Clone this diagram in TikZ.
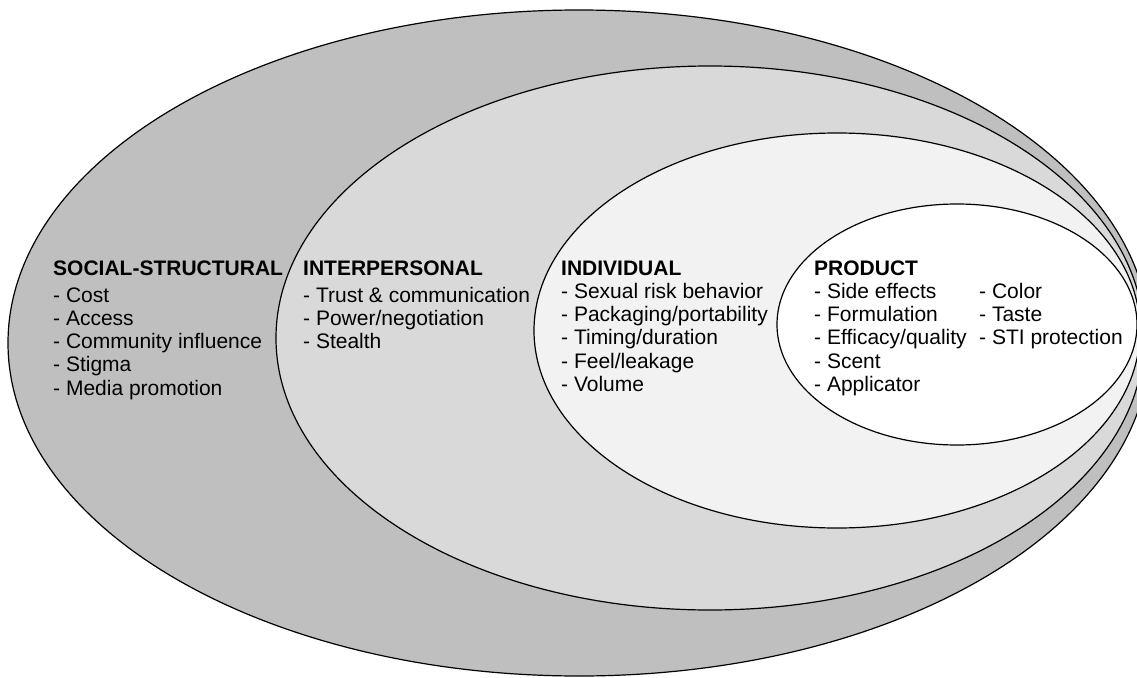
\documentclass[tikz,border=0pt]{standalone}
\usepackage{fontspec}
\setmainfont{Liberation Sans}
\definecolor{outerc}{HTML}{BFBFBF}
\definecolor{secondc}{HTML}{D9D9D9}
\definecolor{thirdc}{HTML}{F2F2F2}
\begin{document}
\begin{tikzpicture}[x=1pt,y=-1pt,
  ring/.style={draw=black,line width=1.2pt},
  grp/.style={anchor=base west,inner sep=0pt,font=\fontsize{21}{23.3}\selectfont}]
\path[use as bounding box] (0,0) rectangle (1137,677);
\begin{scope}
\clip (0,0) rectangle (1137,677);
\draw[ring,fill=outerc] (579,343) ellipse [x radius=571pt,y radius=333pt];
\draw[ring,fill=secondc] (710,338) ellipse [x radius=434pt,y radius=272pt];
\draw[ring,fill=thirdc] (837,330.5) ellipse [x radius=303pt,y radius=197.5pt];
\draw[ring,fill=white] (957,324.5) ellipse [x radius=180pt,y radius=120.5pt];
\end{scope}
\node[grp] (social) at (53,275) {\begin{tabular}[t]{@{}l@{}}\textbf{SOCIAL-STRUCTURAL}\\[3.7pt]
- Cost\\ - Access\\ - Community influence\\ - Stigma\\ - Media promotion\end{tabular}};
\node[grp] (inter) at (303,275) {\begin{tabular}[t]{@{}l@{}}\textbf{INTERPERSONAL}\\[3.7pt]
- Trust \& communication\\ - Power/negotiation\\ - Stealth\end{tabular}};
\node[grp] (indiv) at (561,275) {\begin{tabular}[t]{@{}l@{}}\textbf{INDIVIDUAL}\\
- Sexual risk behavior\\ - Packaging/portability\\ - Timing/duration\\ - Feel/leakage\\ - Volume\end{tabular}};
\node[grp] (prod) at (814,275) {\begin{tabular}[t]{@{}l@{}}\textbf{PRODUCT}\\
- Side effects\\ - Formulation\\ - Efficacy/quality\\ - Scent\\ - Applicator\end{tabular}};
\node[grp] (prodb) at (979,298.3) {\begin{tabular}[t]{@{}l@{}}- Color\\ - Taste\\ - STI protection\end{tabular}};
\end{tikzpicture}
\end{document}
